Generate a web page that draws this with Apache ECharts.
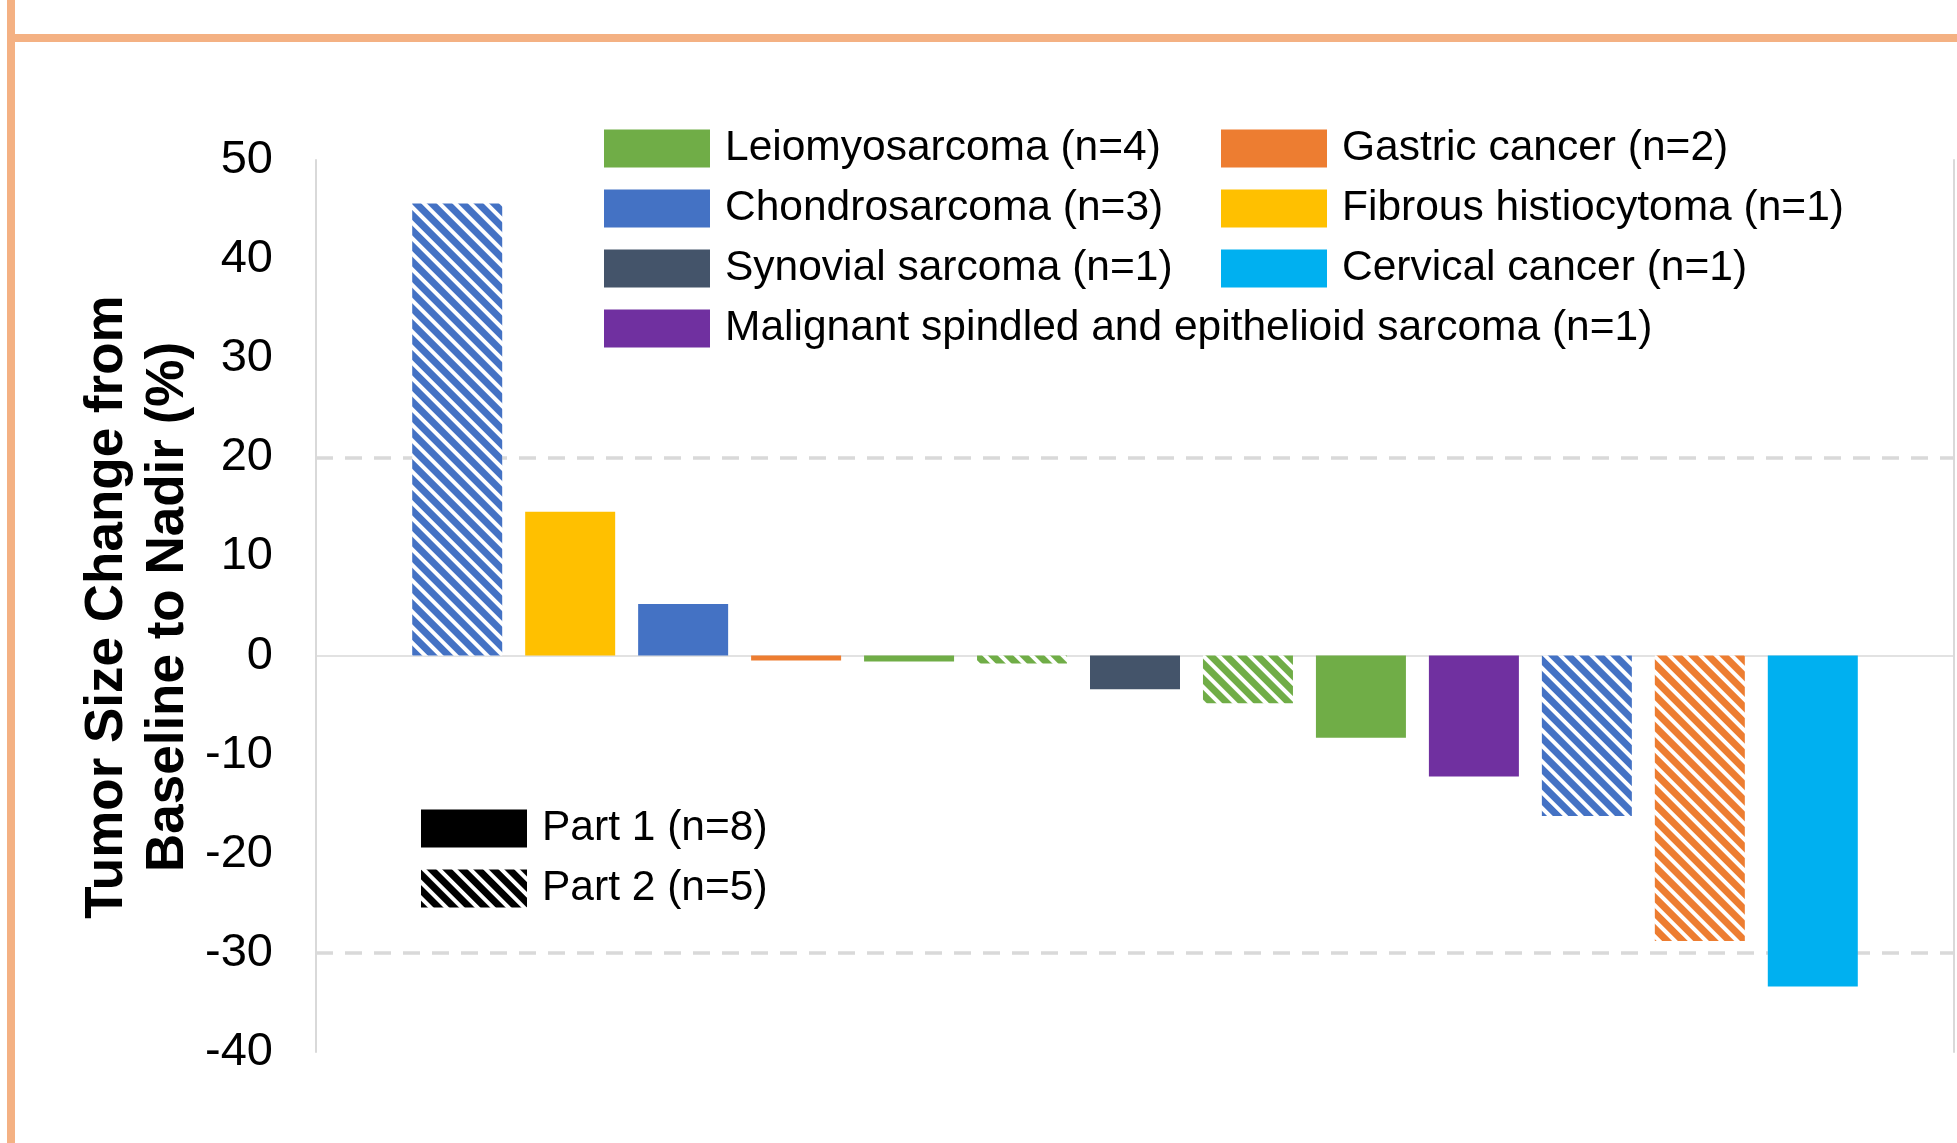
<!DOCTYPE html>
<html>
<head>
<meta charset="utf-8">
<title>Tumor Size Change from Baseline to Nadir</title>
<script src="https://cdn.jsdelivr.net/npm/echarts@6/dist/echarts.min.js"></script>
<style>
  html, body { margin: 0; padding: 0; background: #fff; }
  #chart { width: 1957px; height: 1143px; }
</style>
</head>
<body>
<div id="chart"></div>
<script>
// Tumour types shown in the legend (with patient counts)
const tumorTypes = [
  'Leiomyosarcoma (n=4)',
  'Gastric cancer (n=2)',
  'Chondrosarcoma (n=3)',
  'Fibrous histiocytoma (n=1)',
  'Synovial sarcoma (n=1)',
  'Cervical cancer (n=1)',
  'Malignant spindled and epithelioid sarcoma (n=1)'
];
const typeColors = {
  'Leiomyosarcoma (n=4)': '#70AD47',
  'Gastric cancer (n=2)': '#ED7D31',
  'Chondrosarcoma (n=3)': '#4472C4',
  'Fibrous histiocytoma (n=1)': '#FFC000',
  'Synovial sarcoma (n=1)': '#44546A',
  'Cervical cancer (n=1)': '#00B0F0',
  'Malignant spindled and epithelioid sarcoma (n=1)': '#7030A0'
};

// One entry per patient, in waterfall order
const patientType = [
  'Chondrosarcoma (n=3)',
  'Fibrous histiocytoma (n=1)',
  'Chondrosarcoma (n=3)',
  'Gastric cancer (n=2)',
  'Leiomyosarcoma (n=4)',
  'Leiomyosarcoma (n=4)',
  'Synovial sarcoma (n=1)',
  'Leiomyosarcoma (n=4)',
  'Leiomyosarcoma (n=4)',
  'Malignant spindled and epithelioid sarcoma (n=1)',
  'Chondrosarcoma (n=3)',
  'Gastric cancer (n=2)',
  'Cervical cancer (n=1)'
];
const patientPart = [2, 1, 1, 1, 1, 2, 1, 2, 1, 1, 2, 2, 1];
const tumorChange = [45.6, 14.5, 5.2, -0.5, -0.6, -0.8, -3.4, -4.8, -8.3, -12.2, -16.2, -28.8, -33.4];

// Study parts (solid = Part 1, hatched = Part 2)
const partLabels = ['Part 1 (n=8)', 'Part 2 (n=5)'];

// Value axis and response thresholds
const yTicks = [-40, -30, -20, -10, 0, 10, 20, 30, 40, 50];
const thresholdLines = [20, -30];

const FONT = '"Liberation Sans", Arial, sans-serif';

function hatch(color) {
  return {
    symbol: 'rect',
    symbolSize: 1,
    color: color,
    dashArrayX: [1, 0],
    dashArrayY: [7, 4],
    rotation: Math.PI / 4
  };
}

const typeSeries = tumorTypes.map(function (t) {
  const data = [];
  patientType.forEach(function (pt, i) {
    if (pt !== t) return;
    const item = { value: [i, tumorChange[i]] };
    if (patientPart[i] === 2) {
      item.itemStyle = { color: '#ffffff', decal: hatch(typeColors[t]) };
    }
    data.push(item);
  });
  return {
    name: t,
    type: 'bar',
    z: 3,
    barWidth: 90,
    barGap: '-100%',
    itemStyle: { color: typeColors[t] },
    data: data
  };
});

// Threshold reference lines, drawn beneath the bars
const thresholdSeries = {
  name: 'thresholds',
  type: 'line',
  z: 1,
  silent: true,
  data: [],
  markLine: {
    silent: true,
    z: 1,
    symbol: ['none', 'none'],
    label: { show: false },
    lineStyle: { color: '#D9D9D9', type: [17, 12], width: 3.5 },
    data: thresholdLines.map(function (v) { return { yAxis: v }; })
  }
};

const partSeries = [
  { name: partLabels[0], type: 'bar', barWidth: 90, barGap: '-100%', itemStyle: { color: '#000000' }, data: [] },
  { name: partLabels[1], type: 'bar', barWidth: 90, barGap: '-100%', itemStyle: { color: '#ffffff', decal: hatch('#000000') }, data: [] }
];

const legendText = { fontSize: 42.5, color: '#000', fontFamily: FONT, lineHeight: 38, padding: [0, 0, 0, 10] };
const legendBase = {
  orient: 'vertical',
  icon: 'rect',
  itemWidth: 106,
  itemHeight: 38,
  itemGap: 17,
  selectedMode: false,
  textStyle: legendText
};

const chart = echarts.init(document.getElementById('chart'), null, { renderer: 'canvas' });
chart.setOption({
  animation: false,
  backgroundColor: '#ffffff',
  grid: { left: 316, right: 3, top: 160, bottom: 91, containLabel: false },
  xAxis: {
    type: 'value',
    min: -1.25,
    max: 13.25,
    axisLine: { show: true, onZero: true, lineStyle: { color: '#D9D9D9', width: 1.5 } },
    axisTick: { show: false },
    axisLabel: { show: false },
    splitLine: { show: false }
  },
  yAxis: [
    {
      type: 'value',
      min: yTicks[0],
      max: yTicks[yTicks.length - 1],
      interval: yTicks[1] - yTicks[0],
      axisLine: { show: true, onZero: false, lineStyle: { color: '#D9D9D9', width: 2 } },
      axisTick: { show: false },
      splitLine: { show: false },
      axisLabel: { fontSize: 47, color: '#000', fontFamily: FONT, margin: 43, padding: [7, 0, 0, 0] }
    },
    {
      type: 'value',
      position: 'right',
      min: yTicks[0],
      max: yTicks[yTicks.length - 1],
      interval: yTicks[1] - yTicks[0],
      axisLine: { show: true, onZero: false, lineStyle: { color: '#D9D9D9', width: 2 } },
      axisTick: { show: false },
      splitLine: { show: false },
      axisLabel: { show: false }
    }
  ],
  legend: [
    Object.assign({}, legendBase, { left: 599, top: 122, data: [tumorTypes[0], tumorTypes[2], tumorTypes[4], tumorTypes[6]] }),
    Object.assign({}, legendBase, { left: 1216, top: 122, data: [tumorTypes[1], tumorTypes[3], tumorTypes[5]] }),
    Object.assign({}, legendBase, { left: 416, top: 802, data: partLabels })
  ],
  graphic: [
    { type: 'rect', left: 7, top: 0, shape: { width: 8, height: 1143 }, style: { fill: '#F4B183' }, silent: true },
    { type: 'rect', left: 7, top: 34, shape: { width: 1950, height: 8 }, style: { fill: '#F4B183' }, silent: true },
    {
      type: 'text',
      x: 138,
      y: 607,
      rotation: Math.PI / 2,
      silent: true,
      style: {
        text: 'Tumor Size Change from\nBaseline to Nadir (%)',
        font: 'bold 53px ' + FONT,
        fill: '#000',
        align: 'center',
        verticalAlign: 'middle',
        lineHeight: 61
      }
    }
  ],
  series: [thresholdSeries].concat(typeSeries, partSeries)
});
</script>
</body>
</html>
